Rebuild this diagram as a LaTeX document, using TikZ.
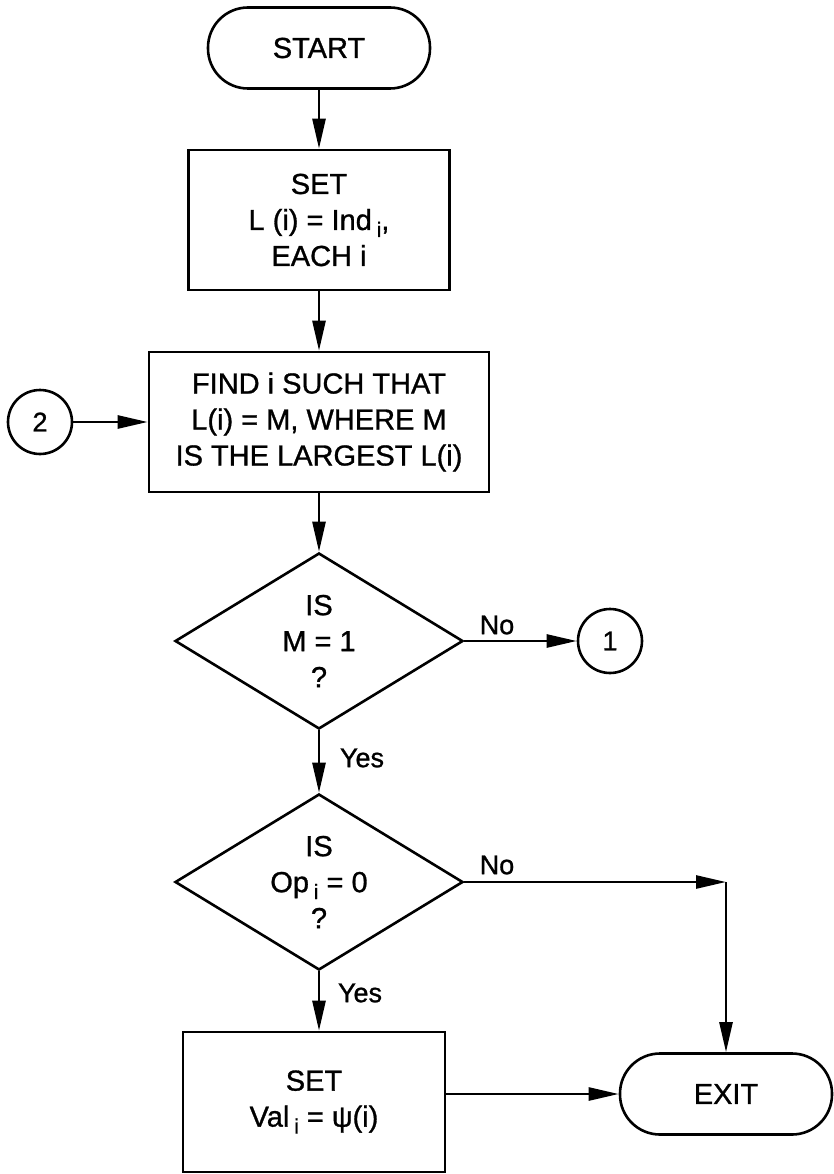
\documentclass[tikz,border=0pt]{standalone}
\usepackage{fontspec}
\setmainfont{Liberation Sans}[FakeBold=1]
\usetikzlibrary{arrows.meta,shapes.geometric}
\newcommand{\lowi}{\,\raisebox{-7pt}{\fontsize{21}{21}\selectfont i}}
\begin{document}
\begin{tikzpicture}[x=1pt,y=-1pt, line width=2.6pt,
  every node/.style={font=\fontsize{29}{36}\selectfont},
  proc/.style={draw, rectangle, align=center, inner sep=0pt},
  term/.style={draw, rectangle, rounded corners=40pt, minimum width=222pt, minimum height=81pt},
  dec/.style={draw, diamond, aspect=1.63, minimum width=288pt, minimum height=176pt, inner sep=0pt, align=center},
  conn/.style={draw, circle, minimum size=64pt, inner sep=0pt, font=\fontsize{27}{27}\selectfont},
  arr/.style={-{Triangle[length=30pt,width=13pt]}},
  lbl/.style={font=\fontsize{27}{27}\selectfont, inner sep=0pt}
]
\useasboundingbox (0,0) rectangle (834,1174);

\node[term] (start) at (319,48) {START};
\node[proc, minimum width=261pt, minimum height=140pt] (set1) at (319,220) {SET\\L (i) = Ind\lowi,\\EACH i};
\node[proc, minimum width=340pt, minimum height=140pt] (find) at (319,422) {FIND i SUCH THAT\\L(i) = M, WHERE M\\IS THE LARGEST L(i)};
\node[conn] (c2) at (40,422) {2};
\node[dec] (d1) at (319,641) {IS\\M = 1\\?};
\node[conn] (c1) at (610,641) {1};
\node[dec] (d2) at (319,882) {IS\\Op\lowi\ = 0\\?};
\node[proc, minimum width=262pt, minimum height=140pt] (set2) at (314,1102) {SET\\Val\lowi\ = ψ(i)};
\node[term, minimum width=212pt] (exit) at (726,1094) {EXIT};
\coordinate (corner) at (exit.north |- d2.east);

\draw[arr] (start) -- (set1);
\draw[arr] (set1) -- (find);
\draw[arr] (c2) -- (find);
\draw[arr] (find) -- (d1);
\draw[arr] (d1) -- (c1);
\draw[arr] (d1) -- (d2);
\draw[arr] (d2.east) -- (corner);
\draw[arr] (corner) -- (exit.north);
\draw[arr] (d2.south) -- (d2.south |- set2.north);
\draw[arr] (set2.east |- exit.west) -- (exit.west);

\node[lbl] (no1) at (497,625) {No};
\node[lbl] (yes1) at (362,758) {Yes};
\node[lbl] (no2) at (497,865) {No};
\node[lbl] (yes2) at (360,993) {Yes};
\end{tikzpicture}
\end{document}
